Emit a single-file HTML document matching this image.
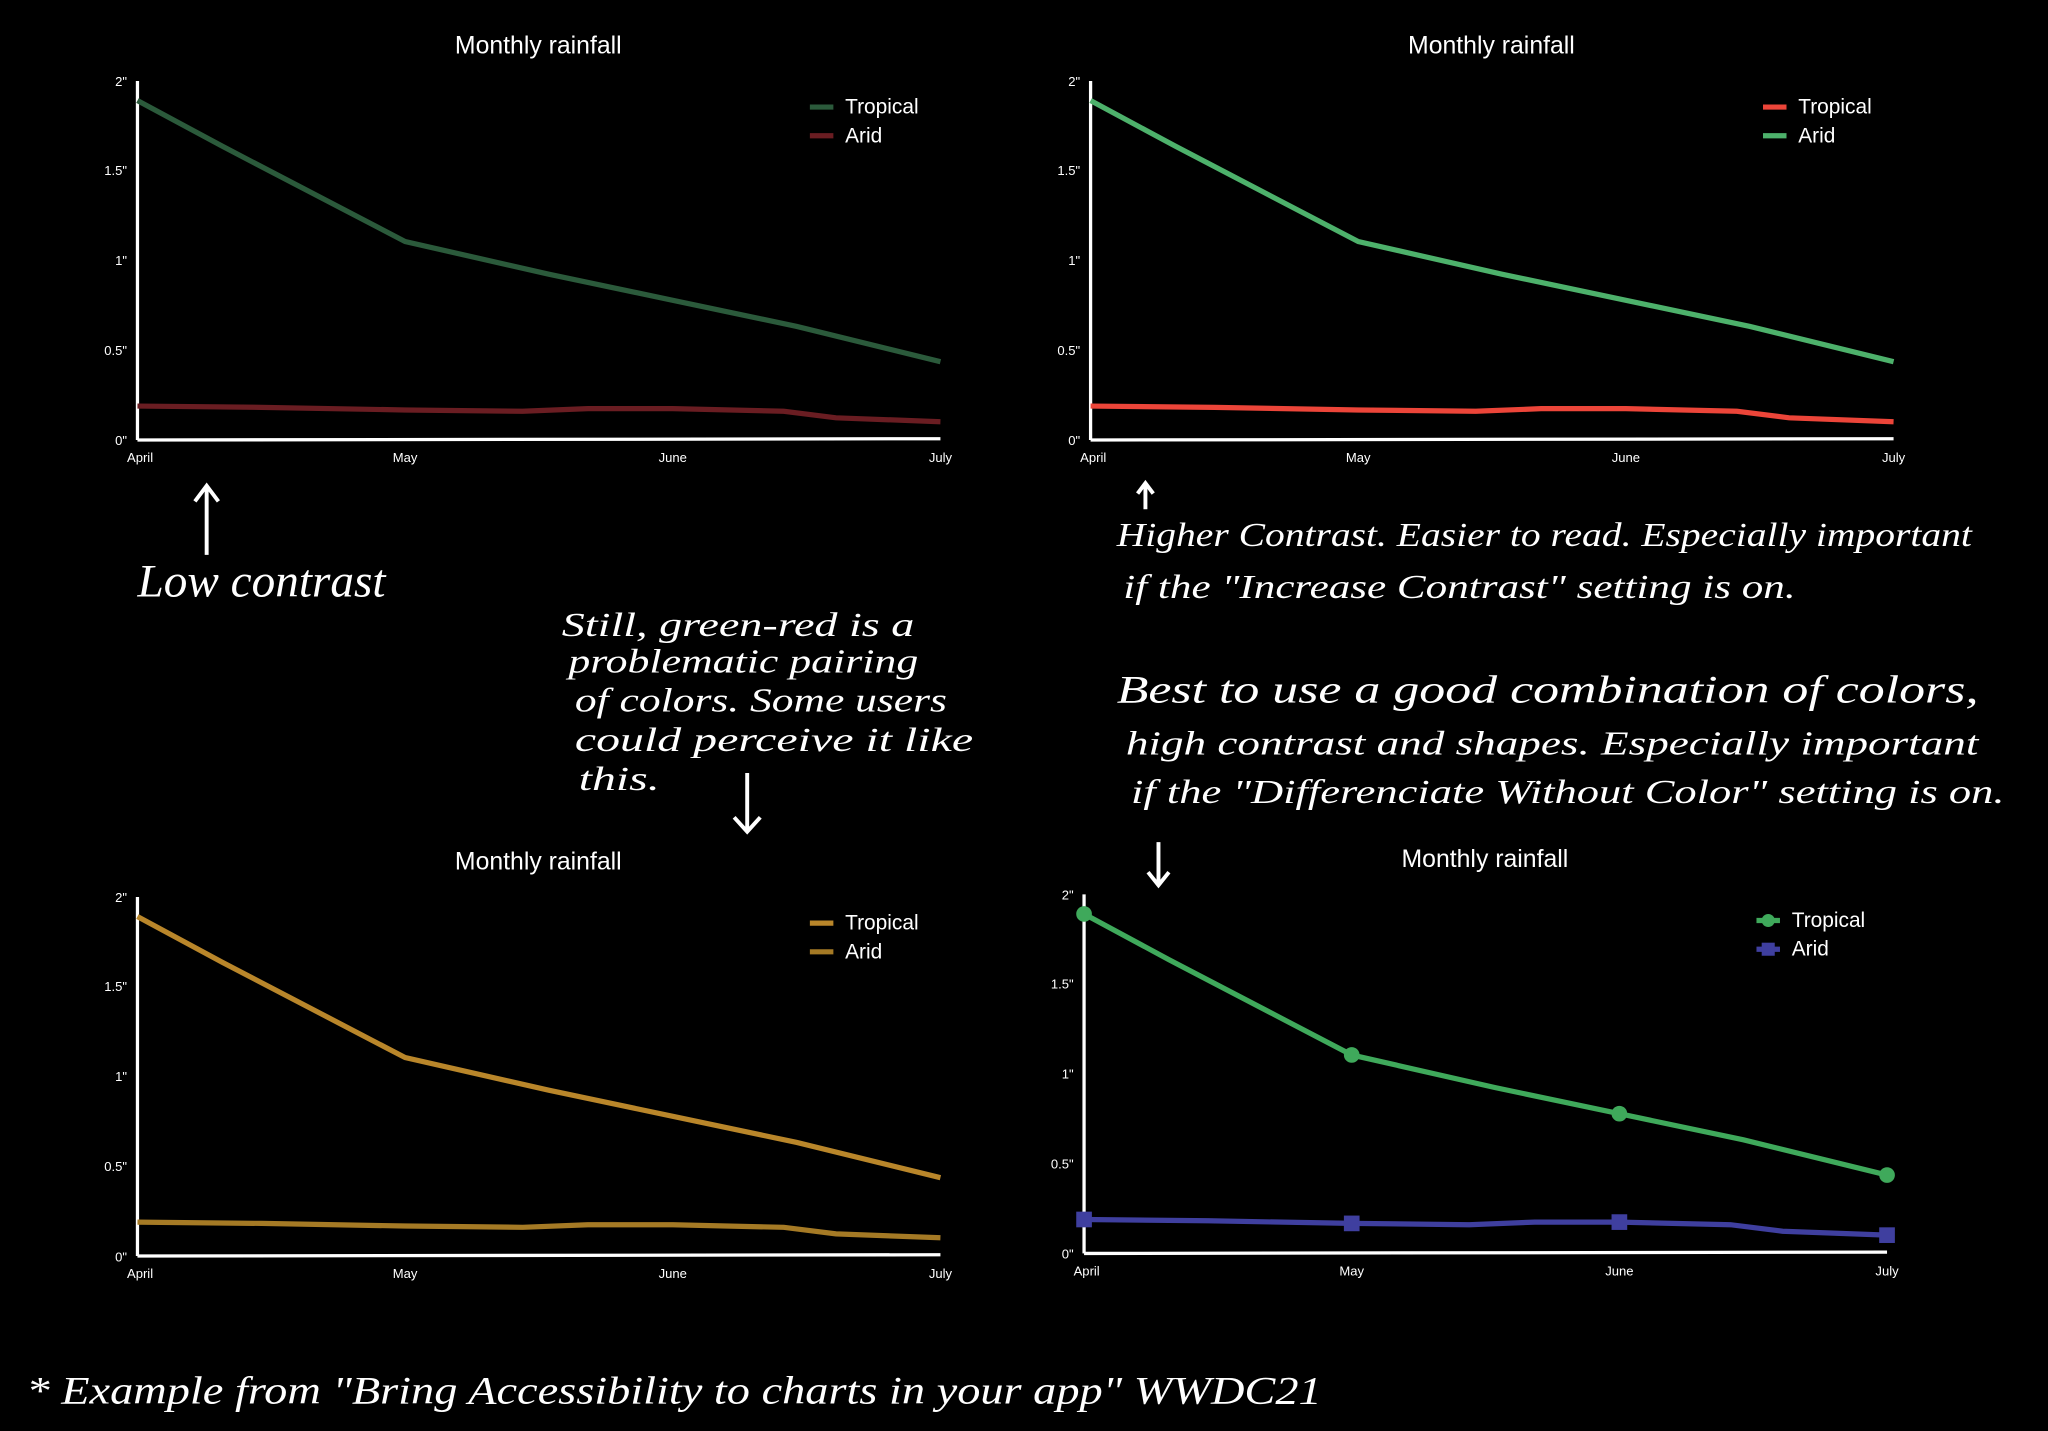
<!DOCTYPE html>
<html><head><meta charset="utf-8">
<style>
html,body{margin:0;padding:0;background:#000;}
svg{display:block;}
text{font-family:"Liberation Sans",sans-serif;fill:#fff;}
.t{font-size:19px;}
.tk{font-size:10px;}
.lg{font-size:16px;}
.h{font-style:italic;font-family:"Liberation Serif",serif;}
</style></head>
<body>
<svg width="2048" height="1431" viewBox="0 0 1568 1096" xmlns="http://www.w3.org/2000/svg">
<rect width="1568" height="1096" fill="#000"/>
<defs>
<g id="axes">
  <line x1="105" y1="62" x2="105" y2="337" stroke="#fff" stroke-width="2.5"/>
  <line x1="105" y1="337" x2="720" y2="336" stroke="#fff" stroke-width="2.5"/>
  <text class="tk" x="97" y="66" text-anchor="end">2"</text>
  <text class="tk" x="97" y="134" text-anchor="end">1.5"</text>
  <text class="tk" x="97" y="203" text-anchor="end">1"</text>
  <text class="tk" x="97" y="272" text-anchor="end">0.5"</text>
  <text class="tk" x="97" y="341" text-anchor="end">0"</text>
  <text class="tk" x="107" y="354" text-anchor="middle">April</text>
  <text class="tk" x="310" y="354" text-anchor="middle">May</text>
  <text class="tk" x="515" y="354" text-anchor="middle">June</text>
  <text class="tk" x="720" y="354" text-anchor="middle">July</text>
  <text class="t" x="412" y="41" text-anchor="middle">Monthly rainfall</text>
  <text class="lg" x="647" y="87">Tropical</text>
  <text class="lg" x="647" y="109">Arid</text>
</g>
</defs>
<g>
<use href="#axes"/>
<polyline points="105,77 170,112 310,185 420,210 515,230 610,250 720,277" fill="none" stroke="#2b5a3b" stroke-width="4"/>
<polyline points="105,311 200,312 310,314 400,315 450,313 515,313 600,315 640,320 720,323" fill="none" stroke="#6a1d22" stroke-width="4"/>
<line x1="620" y1="82" x2="638" y2="82" stroke="#2b5a3b" stroke-width="4"/>
<line x1="620" y1="104" x2="638" y2="104" stroke="#6a1d22" stroke-width="4"/>
</g>
<g transform="translate(730,0)">
<use href="#axes"/>
<polyline points="105,77 170,112 310,185 420,210 515,230 610,250 720,277" fill="none" stroke="#4db16b" stroke-width="4"/>
<polyline points="105,311 200,312 310,314 400,315 450,313 515,313 600,315 640,320 720,323" fill="none" stroke="#ec4539" stroke-width="4"/>
<line x1="620" y1="82" x2="638" y2="82" stroke="#ec4539" stroke-width="4"/>
<line x1="620" y1="104" x2="638" y2="104" stroke="#4db16b" stroke-width="4"/>
</g>
<g transform="translate(0,625)">
<use href="#axes"/>
<polyline points="105,77 170,112 310,185 420,210 515,230 610,250 720,277" fill="none" stroke="#b9862a" stroke-width="4"/>
<polyline points="105,311 200,312 310,314 400,315 450,313 515,313 600,315 640,320 720,323" fill="none" stroke="#a57a25" stroke-width="4"/>
<line x1="620" y1="82" x2="638" y2="82" stroke="#b9862a" stroke-width="4"/>
<line x1="620" y1="104" x2="638" y2="104" stroke="#a57a25" stroke-width="4"/>
</g>
<g transform="translate(725,623)">
<use href="#axes"/>
<polyline points="105,77 170,112 310,185 420,210 515,230 610,250 720,277" fill="none" stroke="#3fa95b" stroke-width="4"/>
<polyline points="105,311 200,312 310,314 400,315 450,313 515,313 600,315 640,320 720,323" fill="none" stroke="#3f3f9f" stroke-width="4"/>
<circle cx="105" cy="77" r="6" fill="#3fa95b"/><circle cx="310" cy="185" r="6" fill="#3fa95b"/>
<circle cx="515" cy="230" r="6" fill="#3fa95b"/><circle cx="720" cy="277" r="6" fill="#3fa95b"/>
<rect x="99" y="305" width="12" height="12" fill="#3f3f9f"/><rect x="304" y="308" width="12" height="12" fill="#3f3f9f"/>
<rect x="509" y="307" width="12" height="12" fill="#3f3f9f"/><rect x="714" y="317" width="12" height="12" fill="#3f3f9f"/>
<line x1="620" y1="82" x2="638" y2="82" stroke="#3fa95b" stroke-width="4"/><circle cx="629" cy="82" r="5" fill="#3fa95b"/>
<line x1="620" y1="104" x2="638" y2="104" stroke="#3f3f9f" stroke-width="4"/><rect x="624" y="99" width="10" height="10" fill="#3f3f9f"/>
</g>
<g stroke="#fff" stroke-width="3" fill="none">
<path d="M158 425 L158 372 M149 384 L158 372 L167 384"/>
<path d="M877 390 L877 370 M871 378 L877 370 L883 378"/>
<path d="M572 592 L572 637 M562 626 L572 637 L582 626"/>
<path d="M887 645 L887 678 M879 668 L887 678 L895 668"/>
</g>
<text class="h" x="105" y="457" font-size="36" textLength="190" lengthAdjust="spacingAndGlyphs">Low contrast</text>
<text class="h" x="855" y="418" font-size="26" textLength="655" lengthAdjust="spacingAndGlyphs">Higher Contrast. Easier to read. Especially important</text>
<text class="h" x="860" y="458" font-size="26" textLength="515" lengthAdjust="spacingAndGlyphs">if the "Increase Contrast" setting is on.</text>
<text class="h" x="430" y="487" font-size="26" textLength="270" lengthAdjust="spacingAndGlyphs">Still, green-red is a</text>
<text class="h" x="435" y="515" font-size="26" textLength="268" lengthAdjust="spacingAndGlyphs">problematic pairing</text>
<text class="h" x="440" y="545" font-size="26" textLength="285" lengthAdjust="spacingAndGlyphs">of colors. Some users</text>
<text class="h" x="440" y="575" font-size="26" textLength="305" lengthAdjust="spacingAndGlyphs">could perceive it like</text>
<text class="h" x="443" y="605" font-size="26" textLength="62" lengthAdjust="spacingAndGlyphs">this.</text>
<text class="h" x="855" y="538" font-size="30" textLength="660" lengthAdjust="spacingAndGlyphs">Best to use a good combination of colors,</text>
<text class="h" x="862" y="578" font-size="26" textLength="653" lengthAdjust="spacingAndGlyphs">high contrast and shapes. Especially important</text>
<text class="h" x="866" y="615" font-size="26" textLength="669" lengthAdjust="spacingAndGlyphs">if the "Differenciate Without Color" setting is on.</text>
<text class="h" x="20" y="1075" font-size="30" textLength="992" lengthAdjust="spacingAndGlyphs">* Example from "Bring Accessibility to charts in your app" WWDC21</text>
</svg>
</body></html>
